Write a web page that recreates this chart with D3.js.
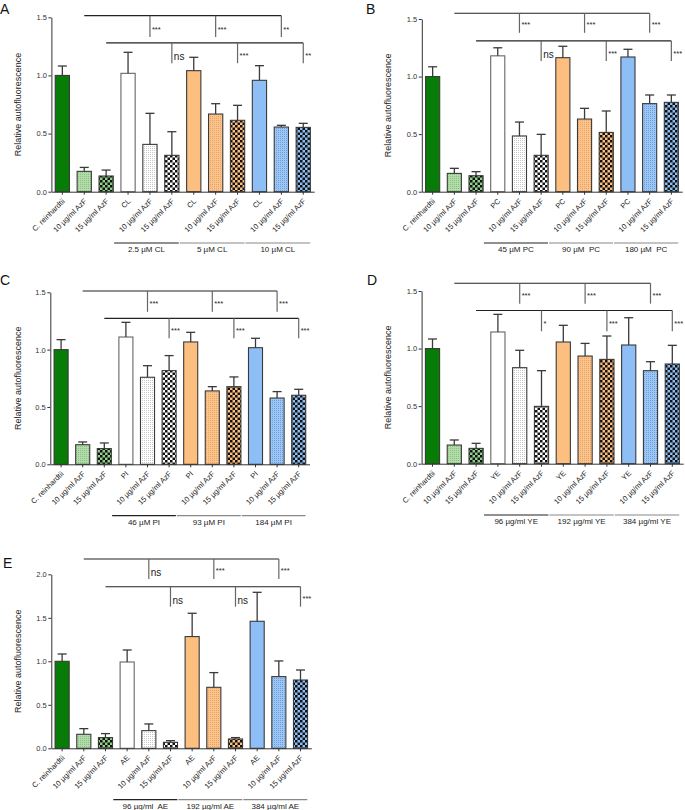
<!DOCTYPE html>
<html><head><meta charset="utf-8">
<script src="https://cdn.jsdelivr.net/npm/d3@7"></script>
<style>
body{margin:0;background:#fff}
svg{display:block}
text{font-family:"Liberation Sans",Arial,Helvetica,sans-serif}
</style>
</head><body>
<svg id="chart" width="685" height="810"></svg>
<script>
// ---------- DATA ----------
const base = ["C. reinhardtii", "10 µg/ml AzF", "15 µg/ml AzF"];
const azf = ["10 µg/ml AzF", "15 µg/ml AzF"];
const categoriesA = base.concat(["CL"], azf, ["CL"], azf, ["CL"], azf);
const categoriesB = base.concat(["PC"], azf, ["PC"], azf, ["PC"], azf);
const categoriesC = base.concat(["PI"], azf, ["PI"], azf, ["PI"], azf);
const categoriesD = base.concat(["YE"], azf, ["YE"], azf, ["YE"], azf);
const categoriesE = base.concat(["AE"], azf, ["AE"], azf, ["AE"], azf);

const meansA = [1.00, 0.175, 0.135, 1.018, 0.407, 0.313, 1.041, 0.668, 0.614, 0.958, 0.556, 0.553];
const sdA    = [0.081, 0.034, 0.051, 0.181, 0.267, 0.203, 0.115, 0.089, 0.129, 0.126, 0.015, 0.035];
const meansB = [1.00, 0.159, 0.139, 1.180, 0.484, 0.316, 1.164, 0.631, 0.515, 1.170, 0.765, 0.776];
const sdB    = [0.085, 0.044, 0.035, 0.070, 0.121, 0.182, 0.099, 0.093, 0.186, 0.067, 0.075, 0.064];
const meansC = [1.00, 0.171, 0.137, 1.110, 0.759, 0.817, 1.067, 0.640, 0.677, 1.017, 0.578, 0.602];
const sdC    = [0.087, 0.024, 0.049, 0.128, 0.101, 0.131, 0.084, 0.037, 0.085, 0.082, 0.056, 0.052];
const meansD = [1.00, 0.162, 0.133, 1.144, 0.834, 0.498, 1.057, 0.935, 0.906, 1.031, 0.808, 0.866];
const sdD    = [0.083, 0.044, 0.044, 0.153, 0.151, 0.310, 0.145, 0.110, 0.203, 0.237, 0.078, 0.162];
const meansE = [1.00, 0.161, 0.123, 0.992, 0.203, 0.069, 1.284, 0.701, 0.107, 1.460, 0.824, 0.785];
const sdE    = [0.084, 0.065, 0.046, 0.138, 0.077, 0.019, 0.268, 0.169, 0.016, 0.333, 0.180, 0.115];

const groupsA = ["2.5 µM CL", "5 µM CL", "10 µM CL"];
const groupsB = ["45 µM PC", "90 µM  PC", "180 µM  PC"];
const groupsC = ["46 µM PI", "93 µM PI", "184 µM PI"];
const groupsD = ["96 µg/ml YE", "192 µg/ml YE", "384 µg/ml YE"];
const groupsE = ["96 µg/ml  AE", "192 µg/ml AE", "384 µg/ml AE"];

const sigTopA = ["***", "***", "**"],  sigBotA = ["ns", "***", "**"];
const sigTopB = ["***", "***", "***"], sigBotB = ["ns", "***", "***"];
const sigTopC = ["***", "***", "***"], sigBotC = ["***", "***", "***"];
const sigTopD = ["***", "***", "***"], sigBotD = ["*", "***", "***"];
const sigTopE = ["ns", "***", "***"],  sigBotE = ["ns", "ns", "***"];

const yTicks15 = [0, 0.5, 1.0, 1.5];
const yTicks20 = [0, 0.5, 1.0, 1.5, 2.0];

// ---------- LAYOUT ----------
const panels = [
  {letter:"A", lx:0,   ly:13.5, r0:51.4,  step:21.9,  y0:191.7, yTopPx:17.3,  yMax:1.5, ticks:yTicks15, titleX:18,
   cats:categoriesA, means:meansA, sd:sdA, groups:groupsA, sigTop:sigTopA, sigBot:sigBotA, levels:[1.514,1.33,1.28,1.105]},
  {letter:"B", lx:366, ly:14,  r0:421.8, step:21.7,  y0:191.7, yTopPx:19,    yMax:1.5, ticks:yTicks15, titleX:388,
   cats:categoriesB, means:meansB, sd:sdB, groups:groupsB, sigTop:sigTopB, sigBot:sigBotB, levels:[1.55,1.38,1.31,1.135]},
  {letter:"C", lx:0,   ly:285, r0:50.3,  step:21.6,  y0:464.3, yTopPx:292.3, yMax:1.5, ticks:yTicks15, titleX:18,
   cats:categoriesC, means:meansC, sd:sdC, groups:groupsC, sigTop:sigTopC, sigBot:sigBotC, levels:[1.511,1.33,1.273,1.10]},
  {letter:"D", lx:367, ly:285, r0:421.6, step:21.8,  y0:463.7, yTopPx:291,   yMax:1.5, ticks:yTicks15, titleX:388,
   cats:categoriesD, means:meansD, sd:sdD, groups:groupsD, sigTop:sigTopD, sigBot:sigBotD, levels:[1.567,1.39,1.33,1.15]},
  {letter:"E", lx:3,   ly:568, r0:51.3,  step:21.67, y0:748.3, yTopPx:574.3, yMax:2.0, ticks:yTicks20, titleX:18,
   cats:categoriesE, means:meansE, sd:sdE, groups:groupsE, sigTop:sigTopE, sigBot:sigBotE, levels:[2.176,1.946,1.857,1.628]}
];

const svg = d3.select("#chart");
const defs = svg.append("defs");

function dotPattern(id, bg, dot) {
  const p = defs.append("pattern").attr("id", id).attr("patternUnits", "userSpaceOnUse")
    .attr("width", 2).attr("height", 2);
  p.append("rect").attr("width", 2).attr("height", 2).attr("fill", bg);
  p.append("rect").attr("width", 1).attr("height", 1).attr("fill", dot);
}
function checkerPattern(id, bg, fg) {
  const p = defs.append("pattern").attr("id", id).attr("patternUnits", "userSpaceOnUse")
    .attr("width", 5).attr("height", 5);
  p.append("rect").attr("width", 5).attr("height", 5).attr("fill", bg);
  p.append("rect").attr("width", 2.5).attr("height", 2.5).attr("fill", fg);
  p.append("rect").attr("x", 2.5).attr("y", 2.5).attr("width", 2.5).attr("height", 2.5).attr("fill", fg);
}
dotPattern("gDots", "#b2dcaa", "#8cc083");
checkerPattern("gCheck", "#8fd08a", "#111");
dotPattern("wDots", "#ffffff", "#c8c8c8");
checkerPattern("wCheck", "#ffffff", "#111");
dotPattern("oDots", "#fcc38a", "#e3a466");
checkerPattern("oCheck", "#fcbf7e", "#111");
dotPattern("bDots", "#9cc6f5", "#6f9fd8");
checkerPattern("bCheck", "#8dbdf5", "#111");

const fills = ["#077d07", "url(#gDots)", "url(#gCheck)",
               "#ffffff", "url(#wDots)", "url(#wCheck)",
               "#fdbf7f", "url(#oDots)", "url(#oCheck)",
               "#8ebef6", "url(#bDots)", "url(#bCheck)"];

panels.forEach(P => {
  const g = svg.append("g");
  const n = P.cats.length;
  const idx = d3.range(n);
  const x = d3.scaleBand().domain(idx).range([P.r0, P.r0 + n * P.step])
    .paddingInner(0.35).paddingOuter(0.175);
  const y = d3.scaleLinear().domain([0, P.yMax]).range([P.y0, P.yTopPx]);
  const cx = i => x(i) + x.bandwidth() / 2;

  // panel letter
  g.append("text").attr("x", P.lx).attr("y", P.ly).attr("font-size", 14).attr("fill", "#111").text(P.letter);

  // bars
  g.selectAll("rect.bar").data(idx).join("rect").attr("class", "bar")
    .attr("x", i => x(i)).attr("width", x.bandwidth())
    .attr("y", i => y(P.means[i])).attr("height", i => y(0) - y(P.means[i]))
    .attr("fill", i => fills[i])
    .attr("stroke", i => (i === 3 ? "#666" : "#3a3a3a")).attr("stroke-width", 1.1);

  // error bars (upper only)
  const eg = g.append("g").attr("stroke", "#3a3a3a").attr("stroke-width", 1.3).attr("fill", "none");
  eg.selectAll("line.v").data(idx).join("line").attr("class", "v")
    .attr("x1", cx).attr("x2", cx)
    .attr("y1", i => y(P.means[i])).attr("y2", i => y(P.means[i] + P.sd[i]));
  eg.selectAll("line.c").data(idx).join("line").attr("class", "c")
    .attr("x1", i => cx(i) - 4.5).attr("x2", i => cx(i) + 4.5)
    .attr("y1", i => y(P.means[i] + P.sd[i])).attr("y2", i => y(P.means[i] + P.sd[i]));

  // y axis
  const ya = g.append("g").attr("transform", `translate(${P.r0},0)`)
    .call(d3.axisLeft(y).tickValues(P.ticks).tickFormat(d3.format(".1f")).tickSize(3).tickSizeOuter(0));
  ya.select(".domain").attr("stroke", "#333");
  ya.selectAll(".tick line").attr("stroke", "#333");
  ya.selectAll(".tick text").attr("font-size", 7.5).attr("fill", "#333").attr("x", -4.5)
    .attr("font-family", "Liberation Sans, Arial, sans-serif");

  // x axis
  const xa = g.append("g").attr("transform", `translate(0,${P.y0})`)
    .call(d3.axisBottom(x).tickFormat(i => P.cats[i]).tickSize(3).tickSizeOuter(0));
  xa.select(".domain").attr("stroke", "#333");
  xa.selectAll(".tick line").attr("stroke", "#333");
  xa.selectAll(".tick text").attr("font-size", 7.5).attr("fill", "#222")
    .attr("font-family", "Liberation Sans, Arial, sans-serif")
    .attr("text-anchor", "end").attr("dy", null).attr("y", 0)
    .attr("transform", "translate(3,10) rotate(-45)");

  // y title
  g.append("text").attr("transform", `translate(${P.titleX + 3.3},${(P.y0 + P.yTopPx) / 2}) rotate(-90)`)
    .attr("text-anchor", "middle").attr("font-size", 9).attr("fill", "#222")
    .text("Relative autofluorescence");

  // group labels under x axis
  P.groups.forEach((lab, k) => {
    const a = 3 + k * 3, b = a + 2;
    const x1 = cx(a) - P.step / 2 - 3, x2 = cx(b) + P.step / 2 - 4;
    g.append("line").attr("x1", x1).attr("x2", x2).attr("y1", P.y0 + 51.3).attr("y2", P.y0 + 51.3)
      .attr("stroke", k === 0 ? "#222" : "#888").attr("stroke-width", 1.1);
    g.append("text").attr("x", (x1 + x2) / 2).attr("y", P.y0 + 60.5).attr("text-anchor", "middle")
      .attr("font-size", 8).attr("fill", "#222").style("white-space", "pre").text(lab);
  });

  // significance brackets
  const drawBracket = (startIdx, drops, lvlTop, lvlBot, labels) => {
    const yTop = y(lvlTop), yBot = y(lvlBot);
    g.append("line").attr("x1", cx(startIdx)).attr("x2", cx(drops[drops.length - 1]))
      .attr("y1", yTop).attr("y2", yTop).attr("stroke", "#222").attr("stroke-width", 1.1);
    drops.forEach((d, k) => {
      g.append("line").attr("x1", cx(d)).attr("x2", cx(d)).attr("y1", yTop).attr("y2", yBot)
        .attr("stroke", "#666").attr("stroke-width", 1.2);
      const lab = labels[k];
      const isNs = lab === "ns";
      g.append("text").attr("x", cx(d) + 2).attr("y", isNs ? yBot - 3 : yBot - 5.5)
        .attr("font-size", isNs ? 10 : 7.5).attr("fill", "#222").text(lab);
    });
  };
  drawBracket(1, [4, 7, 10], P.levels[0], P.levels[1], P.sigTop);
  drawBracket(2, [5, 8, 11], P.levels[2], P.levels[3], P.sigBot);
});
</script>
</body></html>
